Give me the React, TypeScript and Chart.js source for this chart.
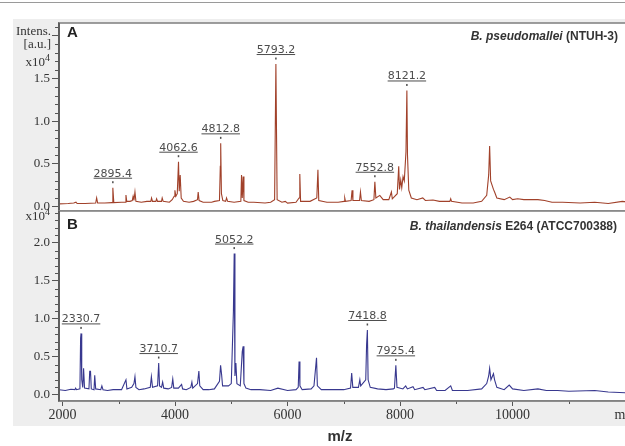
import React, { useEffect, useRef } from "react";
import { Chart, registerables } from "chart.js";
Chart.register(...registerables);

// ---------- data ----------
const X_MIN = 1938;
const X_MAX = 12300;
const xMajorTicks = [2000, 4000, 6000, 8000, 10000, 12000];
const xMajorLabels = ["2000", "4000", "6000", "8000", "10000", "m/z"];
const xMinorTicks = [3000, 5000, 7000, 9000, 11000];

const yTicksA = [0, 0.5, 1, 1.5, 2];
const yLabelsA = ["0.0", "0.5", "1.0", "1.5", ""];
const yTicksB = [0, 0.5, 1, 1.5, 2];
const yLabelsB = ["0.0", "0.5", "1.0", "1.5", "2.0"];

// Spectrum A: B. pseudomallei (NTUH-3)  (intensity in x10^4 a.u.)
const mzA = [1940, 2100, 2200, 2240, 2260, 2400, 2590, 2607, 2625, 2750, 2880, 2895, 2912, 3050, 3115, 3128, 3142, 3200, 3240, 3255, 3270, 3288, 3305, 3400, 3500, 3570, 3583, 3600, 3660, 3673, 3690, 3760, 3772, 3790, 3900, 3950, 3985, 3998, 4015, 4040, 4062, 4075, 4092, 4110, 4150, 4250, 4330, 4400, 4412, 4428, 4500, 4650, 4700, 4790, 4805, 4812, 4825, 4850, 4900, 4916, 4935, 5050, 5170, 5182, 5195, 5211, 5225, 5300, 5400, 5600, 5700, 5770, 5793, 5815, 5900, 5960, 6000, 6150, 6205, 6218, 6232, 6400, 6520, 6540, 6555, 6700, 6900, 7005, 7017, 7030, 7130, 7147, 7162, 7280, 7296, 7312, 7450, 7535, 7552, 7570, 7640, 7700, 7800, 7846, 7862, 7950, 7976, 7990, 8012, 8030, 8053, 8075, 8105, 8121, 8132, 8155, 8200, 8300, 8403, 8450, 8585, 8700, 8885, 8900, 8915, 9100, 9300, 9450, 9540, 9575, 9592, 9610, 9660, 9680, 9720, 9850, 9950, 10000, 10090, 10200, 10450, 10570, 10700, 10890, 11200, 11460, 11700, 11950, 12300];
const intA = [0.03, 0.035, 0.04, 0.05, 0.035, 0.035, 0.04, 0.1, 0.04, 0.04, 0.045, 0.22, 0.045, 0.05, 0.05, 0.135, 0.06, 0.06, 0.07, 0.12, 0.07, 0.17, 0.06, 0.05, 0.06, 0.06, 0.1, 0.06, 0.06, 0.09, 0.06, 0.06, 0.1, 0.06, 0.05, 0.08, 0.12, 0.19, 0.12, 0.15, 0.525, 0.18, 0.37, 0.1, 0.06, 0.05, 0.06, 0.08, 0.17, 0.07, 0.05, 0.05, 0.06, 0.07, 0.47, 0.74, 0.15, 0.07, 0.06, 0.1, 0.06, 0.05, 0.06, 0.37, 0.1, 0.35, 0.07, 0.05, 0.05, 0.04, 0.05, 0.08, 1.67, 0.08, 0.05, 0.06, 0.04, 0.05, 0.1, 0.38, 0.06, 0.06, 0.1, 0.43, 0.07, 0.05, 0.05, 0.06, 0.1, 0.06, 0.07, 0.19, 0.07, 0.07, 0.17, 0.07, 0.06, 0.08, 0.29, 0.1, 0.13, 0.08, 0.08, 0.17, 0.09, 0.15, 0.47, 0.2, 0.31, 0.22, 0.35, 0.3, 0.64, 1.36, 0.6, 0.19, 0.1, 0.08, 0.1, 0.07, 0.076, 0.06, 0.06, 0.09, 0.06, 0.04, 0.04, 0.06, 0.13, 0.37, 0.71, 0.3, 0.2, 0.17, 0.1, 0.08, 0.11, 0.08, 0.09, 0.08, 0.08, 0.07, 0.05, 0.05, 0.04, 0.05, 0.035, 0.06, 0.03];

// Spectrum B: B. thailandensis E264 (ATCC700388)
const mzB = [1940, 2050, 2150, 2220, 2234, 2250, 2310, 2322, 2330, 2342, 2360, 2375, 2392, 2470, 2484, 2498, 2512, 2560, 2573, 2590, 2680, 2700, 2720, 2800, 2900, 3050, 3128, 3145, 3230, 3270, 3288, 3305, 3360, 3450, 3560, 3580, 3600, 3690, 3710, 3725, 3760, 3780, 3800, 3880, 3940, 3960, 3978, 4060, 4117, 4135, 4200, 4280, 4300, 4315, 4400, 4424, 4440, 4500, 4600, 4700, 4790, 4810, 4828, 4845, 4950, 5000, 5038, 5052, 5065, 5082, 5100, 5160, 5195, 5211, 5225, 5260, 5350, 5508, 5700, 5828, 6000, 6150, 6190, 6205, 6220, 6260, 6420, 6470, 6515, 6530, 6600, 6800, 7000, 7120, 7140, 7160, 7260, 7285, 7300, 7390, 7405, 7419, 7432, 7470, 7600, 7750, 7880, 7900, 7925, 7945, 8050, 8100, 8130, 8230, 8260, 8408, 8440, 8616, 8650, 8800, 8900, 8930, 9200, 9450, 9540, 9575, 9592, 9615, 9660, 9680, 9720, 9850, 9940, 10000, 10200, 10450, 10600, 10800, 11000, 11460, 11700, 12000, 12300];
const intB = [0.07, 0.06, 0.075, 0.07, 0.09, 0.07, 0.08, 0.75, 0.81, 0.2, 0.1, 0.35, 0.09, 0.08, 0.31, 0.31, 0.08, 0.07, 0.26, 0.08, 0.07, 0.12, 0.07, 0.06, 0.07, 0.07, 0.2, 0.08, 0.1, 0.15, 0.24, 0.1, 0.07, 0.08, 0.1, 0.24, 0.1, 0.12, 0.42, 0.12, 0.1, 0.17, 0.09, 0.08, 0.1, 0.21, 0.09, 0.09, 0.14, 0.08, 0.07, 0.1, 0.17, 0.09, 0.15, 0.315, 0.12, 0.07, 0.07, 0.08, 0.18, 0.39, 0.27, 0.12, 0.12, 0.15, 1.1, 1.86, 0.25, 0.42, 0.15, 0.12, 0.57, 0.64, 0.15, 0.09, 0.07, 0.07, 0.06, 0.09, 0.06, 0.07, 0.1, 0.44, 0.12, 0.07, 0.08, 0.12, 0.49, 0.12, 0.07, 0.07, 0.07, 0.09, 0.29, 0.1, 0.1, 0.2, 0.12, 0.2, 0.66, 0.855, 0.2, 0.1, 0.08, 0.07, 0.08, 0.09, 0.39, 0.1, 0.08, 0.12, 0.08, 0.11, 0.07, 0.1, 0.07, 0.1, 0.06, 0.06, 0.12, 0.06, 0.06, 0.08, 0.15, 0.25, 0.35, 0.2, 0.28, 0.2, 0.1, 0.07, 0.13, 0.08, 0.06, 0.08, 0.06, 0.06, 0.05, 0.06, 0.04, 0.03, 0.03];

// Peak annotations
const peakTextA = ["2895.4", "4062.6", "4812.8", "5793.2", "7552.8", "8121.2"];
const peakMzA = [2895, 4062, 4812, 5793, 7552, 8121];
const peakIntA = [0.22, 0.525, 0.74, 1.67, 0.29, 1.36];
const peakTextB = ["2330.7", "3710.7", "5052.2", "7418.8", "7925.4"];
const peakMzB = [2330, 3710, 5052, 7419, 7925];
const peakIntB = [0.81, 0.42, 1.86, 0.855, 0.39];

const titleA = ["B. pseudomallei ", "(NTUH-3)"];
const titleB = ["B. thailandensis ", "E264 (ATCC700388)"];

const CANVAS_W = 680;

type Panel = {
  mz: number[];
  ints: number[];
  color: string;
  yMin: number;
  yMax: number;
  yTicks: number[];
  yLabels: string[];
  peakText: string[];
  peakMz: number[];
  peakInt: number[];
  showX: boolean;
  padding: { top: number; bottom: number };
  decorate: (ctx: CanvasRenderingContext2D) => void;
};

function drawTitle(ctx: CanvasRenderingContext2D, parts: string[], right: number, y: number) {
  ctx.save();
  ctx.fillStyle = "#333";
  ctx.textBaseline = "middle";
  ctx.textAlign = "right";
  ctx.font = 'bold 12px "Liberation Sans"';
  ctx.fillText(parts[1], right, y);
  const w = ctx.measureText(parts[1]).width;
  ctx.font = 'italic bold 12px "Liberation Sans"';
  ctx.fillText(parts[0], right - w, y);
  ctx.restore();
}

function drawExp(ctx: CanvasRenderingContext2D, right: number, y: number) {
  ctx.save();
  ctx.fillStyle = "#333";
  ctx.textBaseline = "middle";
  ctx.textAlign = "right";
  ctx.font = '13px "Liberation Serif"';
  ctx.fillText("x10", right - 6, y);
  ctx.textAlign = "left";
  ctx.font = '10px "Liberation Serif"';
  ctx.fillText("4", right - 6, y - 5);
  ctx.restore();
}

function makeChart(canvas: HTMLCanvasElement, p: Panel) {
  const deco = {
    id: "deco",
    beforeDraw(chart: any) {
      const a = chart.chartArea;
      const ctx = chart.ctx;
      ctx.save();
      ctx.fillStyle = "#ffffff";
      ctx.fillRect(a.left, a.top, a.right - a.left, a.bottom - a.top);
      ctx.restore();
    },
    afterDatasetsDraw(chart: any) {
      const ctx = chart.ctx;
      const xs = chart.scales.x;
      const ys = chart.scales.y;
      ctx.save();
      ctx.font = '11px "DejaVu Sans"';
      ctx.fillStyle = "#4d4d4d";
      ctx.textAlign = "center";
      ctx.textBaseline = "alphabetic";
      p.peakText.forEach((t, i) => {
        const px = xs.getPixelForValue(p.peakMz[i]);
        const py = ys.getPixelForValue(p.peakInt[i]);
        ctx.fillText(t, px, py - 11);
        const w = ctx.measureText(t).width;
        ctx.fillRect(px - w / 2, py - 10, w, 1);
        ctx.fillRect(px - 0.75, py - 6.5, 1.5, 2);
      });
      ctx.restore();
    },
    afterDraw(chart: any) {
      const ctx = chart.ctx;
      const a = chart.chartArea;
      const ys = chart.scales.y;
      const xs = chart.scales.x;
      ctx.save();
      ctx.strokeStyle = "#555";
      ctx.lineWidth = 1;
      for (let k = Math.ceil(p.yMin * 10); k <= Math.floor(p.yMax * 10); k++) {
        if (k % 5 === 0) continue;
        const y = Math.round(ys.getPixelForValue(k / 10)) + 0.5;
        ctx.beginPath();
        ctx.moveTo(a.left - 4, y);
        ctx.lineTo(a.left, y);
        ctx.stroke();
      }
      if (p.showX) {
        xMinorTicks.forEach((v) => {
          const x = Math.round(xs.getPixelForValue(v)) + 0.5;
          ctx.beginPath();
          ctx.moveTo(x, a.bottom);
          ctx.lineTo(x, a.bottom + 3);
          ctx.stroke();
        });
      }
      ctx.strokeStyle = "#858585";
      ctx.lineWidth = 1.6;
      ctx.strokeRect(a.left, a.top, a.right - a.left, a.bottom - a.top);
      ctx.strokeStyle = "#555";
      ctx.beginPath();
      ctx.moveTo(a.left, a.top);
      ctx.lineTo(a.left, a.bottom);
      ctx.stroke();
      ctx.restore();
      p.decorate(ctx);
    },
  };

  return new Chart(canvas, {
    type: "line",
    data: {
      datasets: [
        {
          data: p.mz.map((x, i) => ({ x, y: p.ints[i] })),
          borderColor: p.color,
          borderWidth: 1.1,
          pointRadius: 0,
          tension: 0,
          fill: false,
        },
      ],
    },
    options: {
      responsive: false,
      animation: false,
      events: [],
      layout: { padding: { left: 0, right: 38, top: p.padding.top, bottom: p.padding.bottom } },
      plugins: { legend: { display: false }, tooltip: { enabled: false } },
      scales: {
        x: {
          type: "linear",
          min: X_MIN,
          max: X_MAX,
          display: p.showX,
          afterBuildTicks: (s: any) => {
            s.ticks = xMajorTicks.map((v) => ({ value: v }));
          },
          afterFit: (s: any) => {
            s.height = p.showX ? 24 : 0;
            s.paddingLeft = 0;
            s.paddingRight = 0;
          },
          ticks: {
            autoSkip: false,
            maxRotation: 0,
            padding: 1,
            color: "#333",
            font: { family: "Liberation Serif", size: 14 },
            callback: (v: any) => {
              const i = xMajorTicks.indexOf(Number(v));
              return i >= 0 ? xMajorLabels[i] : "";
            },
          },
          grid: { drawOnChartArea: false, tickLength: 5, tickColor: "#555" },
          border: { display: true, color: "#777", width: 1.5 },
        },
        y: {
          type: "linear",
          min: p.yMin,
          max: p.yMax,
          afterBuildTicks: (s: any) => {
            s.ticks = p.yTicks.map((v) => ({ value: v }));
          },
          afterFit: (s: any) => {
            s.width = 59;
            s.paddingTop = 0;
            s.paddingBottom = 0;
          },
          ticks: {
            padding: 2,
            color: "#333",
            font: { family: "Liberation Serif", size: 13 },
            callback: (v: any) => {
              const i = p.yTicks.indexOf(Number(v));
              return i >= 0 ? p.yLabels[i] : "";
            },
          },
          grid: { drawOnChartArea: false, tickLength: 7, tickColor: "#555" },
          border: { display: true, color: "#555", width: 1.5 },
        },
      },
    },
    plugins: [deco],
  } as any);
}

export default function App() {
  const topRef = useRef<HTMLCanvasElement>(null);
  const botRef = useRef<HTMLCanvasElement>(null);

  useEffect(() => {
    const top = makeChart(topRef.current!, {
      mz: mzA,
      ints: intA,
      color: "#a1412a",
      yMin: -0.053,
      yMax: 2.151,
      yTicks: yTicksA,
      yLabels: yLabelsA,
      peakText: peakTextA,
      peakMz: peakMzA,
      peakInt: peakIntA,
      showX: false,
      padding: { top: 23, bottom: 4 },
      decorate: (ctx) => {
        ctx.save();
        ctx.fillStyle = "#333";
        ctx.textAlign = "right";
        ctx.textBaseline = "middle";
        ctx.font = '13px "Liberation Serif"';
        ctx.fillText("Intens.", 51, 32);
        ctx.fillText("[a.u.]", 51, 45);
        ctx.fillStyle = "#222";
        ctx.textAlign = "left";
        ctx.font = 'bold 15px "Liberation Sans"';
        ctx.fillText("A", 67, 33);
        ctx.restore();
        drawExp(ctx, 51, 63);
        drawTitle(ctx, titleA, 618, 37);
      },
    });
    const bot = makeChart(botRef.current!, {
      mz: mzB,
      ints: intB,
      color: "#38388f",
      yMin: -0.079,
      yMax: 2.42,
      yTicks: yTicksB,
      yLabels: yLabelsB,
      peakText: peakTextB,
      peakMz: peakMzB,
      peakInt: peakIntB,
      showX: true,
      padding: { top: 16, bottom: 21 },
      decorate: (ctx) => {
        ctx.save();
        ctx.fillStyle = "#222";
        ctx.textAlign = "left";
        ctx.textBaseline = "middle";
        ctx.font = 'bold 15px "Liberation Sans"';
        ctx.fillText("B", 67, 30);
        ctx.fillStyle = "#333";
        ctx.textAlign = "center";
        ctx.font = 'bold 15px "Liberation Sans"';
        ctx.fillText("m/z", 340, 242);
        ctx.restore();
        drawExp(ctx, 51, 22);
        drawTitle(ctx, titleB, 617, 32);
      },
    });
    return () => {
      top.destroy();
      bot.destroy();
    };
  }, []);

  return (
    <div style={{ position: "fixed", left: 0, top: 0, width: 625, height: 446, overflow: "hidden", background: "#fff" }}>
      <div style={{ position: "absolute", left: 0, top: 2, width: 625, height: 1, background: "#9a9a9a" }} />
      <div style={{ position: "absolute", left: 13, top: 19, width: 612, height: 407, background: "#eeeeee" }} />
      <canvas
        ref={topRef}
        width={CANVAS_W}
        height={215}
        style={{ position: "absolute", left: 0, top: 0, width: CANVAS_W, height: 215 }}
      />
      <canvas
        ref={botRef}
        width={CANVAS_W}
        height={251}
        style={{ position: "absolute", left: 0, top: 195, width: CANVAS_W, height: 251 }}
      />
    </div>
  );
}
